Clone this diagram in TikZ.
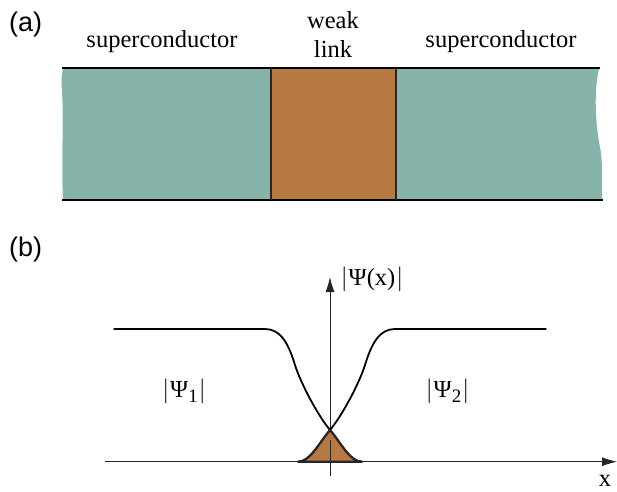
\documentclass[tikz,border=0pt]{standalone}
\usepackage{fontspec}
\setmainfont{Liberation Serif}
\newfontfamily\labelsans{Liberation Sans}
\usetikzlibrary{arrows.meta}
\definecolor{scteal}{HTML}{86B4AA}
\definecolor{wlbrown}{HTML}{B77942}
\tikzset{
  txt/.style={inner sep=0pt, anchor=base, font=\fontsize{24.5}{28}\selectfont},
  panel/.style={inner sep=0pt, anchor=base west, font=\labelsans\fontsize{27}{30}\selectfont},
  edge/.style={line width=1.8pt, black},
  curve/.style={line width=1.8pt, black},
  axis/.style={line width=0.9pt, black!85, -{Latex[length=15pt,width=9pt]}}
}
\newcommand{\psisub}[1]{\ensuremath{|}\kern1pt\symbol{"03A8}\raisebox{-5pt}{\fontsize{19}{19}\selectfont #1}\kern1pt\ensuremath{|}}
\begin{document}
\begin{tikzpicture}[x=1pt,y=-1pt]
\useasboundingbox (0,0) rectangle (617,491);
% ---------- panel (a) ----------
\fill[scteal] (63,68.3) -- (271,68.3) -- (271,200) -- (63,200)
  .. controls (61,160) and (64,120) .. (62,92)
  .. controls (61,80) and (62,72) .. cycle;
\fill[scteal] (396,68.3) -- (599,68.3)
  .. controls (594,90) and (595,122) .. (600,147)
  .. controls (603,162) and (602,185) .. (602,200) -- (396,200) -- cycle;
\fill[wlbrown] (271,68.3) rectangle (396,200);
\coordinate (tl) at (62,68.3); \coordinate (tr) at (600,68.3);
\coordinate (bl) at (62,200); \coordinate (br) at (603,200);
\coordinate (w1t) at (271,68.3); \coordinate (w1b) at (271,200);
\coordinate (w2t) at (396,68.3); \coordinate (w2b) at (396,200);
\draw[edge] (tl) -- (tr);
\draw[edge] (bl) -- (br);
\draw[edge, line width=1.6pt, black!85] (w1t) -- (w1b);
\draw[edge, line width=1.6pt, black!85] (w2t) -- (w2b);
\node[panel] (la) at (9,31) {(a)};
\node[txt] (sc1) at (162,47) {superconductor};
\node[txt] (sc2) at (501,47) {superconductor};
\node[txt] (wk) at (333,28) {weak};
\node[txt] (lk) at (333,57) {link};
% ---------- panel (b) ----------
\node[panel] (lb) at (9,256) {(b)};
\coordinate (xo) at (104.6,461.7); \coordinate (xe) at (617,461.7);
\coordinate (yo) at (330,476); \coordinate (ye) at (330,277);
\draw[axis] (xo) -- (xe);
\draw[axis] (yo) -- (ye);
% left curve |Psi_1|
\draw[curve] (113.6,329) -- (265,329)
  .. controls (280,329) and (288,342) .. (295,365)
  .. controls (301,384) and (318,415.6) .. (330,430)
  .. controls (342,444.4) and (350,461.7) .. (362,461.7);
% right curve |Psi_2|
\draw[curve] (546.4,329) -- (395,329)
  .. controls (380,329) and (372,342) .. (365,365)
  .. controls (359,384) and (342,415.6) .. (330,430)
  .. controls (318,444.4) and (310,461.7) .. (298,461.7);
% overlap region
\filldraw[fill=wlbrown, draw=black!85, line width=2.2pt, line join=round]
  (298,461.7) .. controls (310,461.7) and (318,444.4) .. (330,430)
  .. controls (342,444.4) and (350,461.7) .. (362,461.7) -- cycle;
\draw[line width=0.9pt, black!85] (yo) -- (330,440);
\node[txt] (py) at (372,285) {$|$\kern1pt\symbol{"03A8}(x)\kern1pt$|$};
\node[txt] (p1) at (184,397) {\psisub{1}};
\node[txt] (p2) at (447.5,397) {\psisub{2}};
\node[txt] (xl) at (605,486.5) {x};
\end{tikzpicture}
\end{document}
